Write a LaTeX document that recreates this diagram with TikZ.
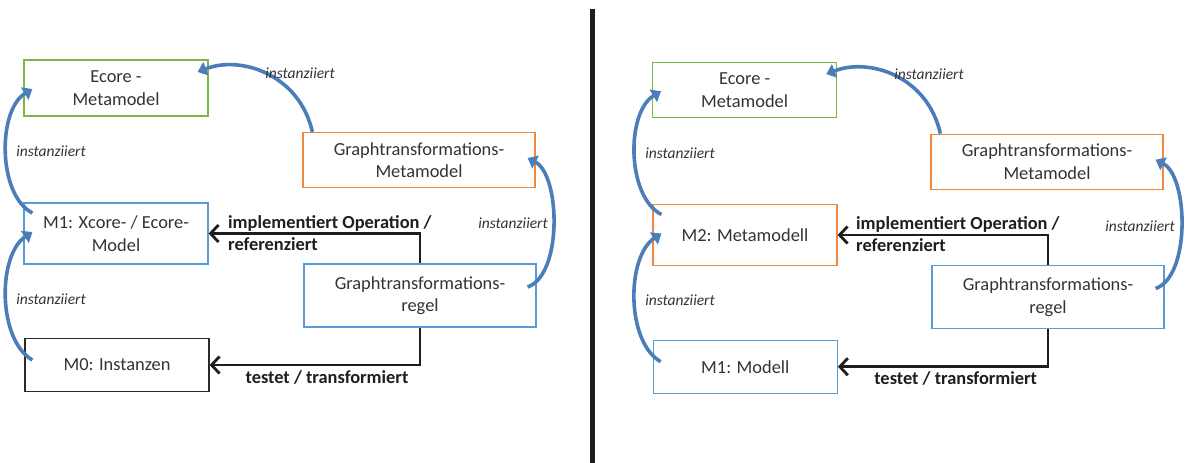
\documentclass[tikz,border=0pt]{standalone}
\usepackage{fontspec}
\setmainfont{Carlito}
\usetikzlibrary{calc,arrows.meta}
\definecolor{txt}{HTML}{333333}
\definecolor{bgreen}{HTML}{7AB648}
\definecolor{borange}{HTML}{F0883E}
\definecolor{bblue}{HTML}{5B9BD5}
\definecolor{bblack}{HTML}{2A2A2A}
\definecolor{arrowblue}{HTML}{4A7EBB}
\definecolor{conn}{HTML}{1E1E1E}
\tikzset{
  box/.style={draw, line width=1.2pt, rectangle, inner sep=0pt, align=center,
    text=txt, font=\fontsize{18.4}{22.5}\selectfont},
  inst/.style={inner sep=0pt, text=txt, font=\fontsize{15.5}{18}\selectfont\itshape},
  blabel/.style={inner sep=0pt, align=left, text=conn, font=\fontsize{18.4}{22}\selectfont\bfseries},
  connector/.style={draw=conn, line width=2.8pt, -{Straight Barb[length=8pt,width=17pt,line width=2.8pt]}},
  barrow/.style={draw=arrowblue, line width=3.6pt, -{Triangle[width=14pt,length=9pt]}}
}
\begin{document}
\begin{tikzpicture}[x=1pt,y=-1pt]
\useasboundingbox (0,0) rectangle (1187,463);
% divider
\draw[line width=5pt, draw=conn] (592,9) -- (592,463);

% ---------------- left panel ----------------
\node[box, draw=bgreen, minimum width=184pt, minimum height=56pt] (LE) at (116,88) {Ecore -\\Metamodel};
\node[box, draw=borange, minimum width=232pt, minimum height=55pt] (LGM) at (419,160) {Graphtransformations-\\Metamodel};
\node[box, draw=bblue, minimum width=184pt, minimum height=61pt] (LM1) at (116,233.5) {M1: Xcore- / Ecore-\\Model};
\node[box, draw=bblue, minimum width=232pt, minimum height=63pt] (LGR) at (420,295.5) {Graphtransformations-\\regel};
\node[box, draw=bblack, minimum width=184pt, minimum height=53pt] (LM0) at (117,365) {M0: Instanzen};

\draw[connector] (LGR.north) |- (LM1.east);
\draw[connector] (LGR.south) |- (LM0.east);
\node[blabel, anchor=west] (LL1) at (228,233) {implementiert Operation /\\referenziert};
\node[blabel] (LL2) at (327,377) {testet / transformiert};

\draw[barrow] ($(LGM.north west)+(10,0)$) .. controls ($(LGM.north west)+(-3,-57.5)$) and ($(LE.east)+(32,-33)$) .. ($(LE.east)+(-11,-16)$);
\draw[barrow] ($(LGR.east)+(-9,-8.5)$) .. controls ($(LGR.east)+(26,-20.5)$) and ($(LGM.east)+(25,15)$) .. ($(LGM.east)+(-8,-2)$);
\draw[barrow] ($(LM1.west)+(9,-20.5)$) .. controls ($(LM1.west)+(-26,-38.5)$) and ($(LE.west)+(-26,22)$) .. ($(LE.west)+(9,1)$);
\draw[barrow] ($(LM0.west)+(8,-5)$) .. controls ($(LM0.west)+(-27,-25)$) and ($(LM1.west)+(-26,21.5)$) .. ($(LM1.west)+(9,-1.5)$);

\node[inst] (LI1) at (300,73) {instanziiert};
\node[inst] (LI2) at (51,151) {instanziiert};
\node[inst] (LI3) at (51,299) {instanziiert};
\node[inst] (LI4) at (513,223) {instanziiert};

% ---------------- right panel ----------------
\node[box, draw=bgreen, minimum width=184pt, minimum height=55pt] (RE) at (744.6,90.2) {Ecore -\\Metamodel};
\node[box, draw=borange, minimum width=232pt, minimum height=55pt] (RGM) at (1047,161.7) {Graphtransformations-\\Metamodel};
\node[box, draw=borange, minimum width=184pt, minimum height=61.7pt] (RM2) at (745,235) {M2: Metamodell};
\node[box, draw=bblue, minimum width=232pt, minimum height=62.6pt] (RGR) at (1048,297) {Graphtransformations-\\regel};
\node[box, draw=bblue, minimum width=184pt, minimum height=53pt] (RM1) at (745.3,366.7) {M1: Modell};

\draw[connector] (RGR.north) |- (RM2.east);
\draw[connector] (RGR.south) |- (RM1.east);
\node[blabel, anchor=west] (RL1) at (856,234) {implementiert Operation /\\referenziert};
\node[blabel] (RL2) at (955.7,378) {testet / transformiert};

\draw[barrow] ($(RGM.north west)+(10,0)$) .. controls ($(RGM.north west)+(-3,-57.5)$) and ($(RE.east)+(32,-33)$) .. ($(RE.east)+(-11,-16)$);
\draw[barrow] ($(RGR.east)+(-9,-8.5)$) .. controls ($(RGR.east)+(26,-20.5)$) and ($(RGM.east)+(25,15)$) .. ($(RGM.east)+(-8,-2)$);
\draw[barrow] ($(RM2.west)+(9,-20.5)$) .. controls ($(RM2.west)+(-26,-38.5)$) and ($(RE.west)+(-26,22)$) .. ($(RE.west)+(9,1)$);
\draw[barrow] ($(RM1.west)+(8,-5)$) .. controls ($(RM1.west)+(-27,-25)$) and ($(RM2.west)+(-26,21.5)$) .. ($(RM2.west)+(9,-1.5)$);

\node[inst] (RI1) at (929,74) {instanziiert};
\node[inst] (RI2) at (680,153) {instanziiert};
\node[inst] (RI3) at (680,300) {instanziiert};
\node[inst] (RI4) at (1140,226) {instanziiert};
\end{tikzpicture}
\end{document}
